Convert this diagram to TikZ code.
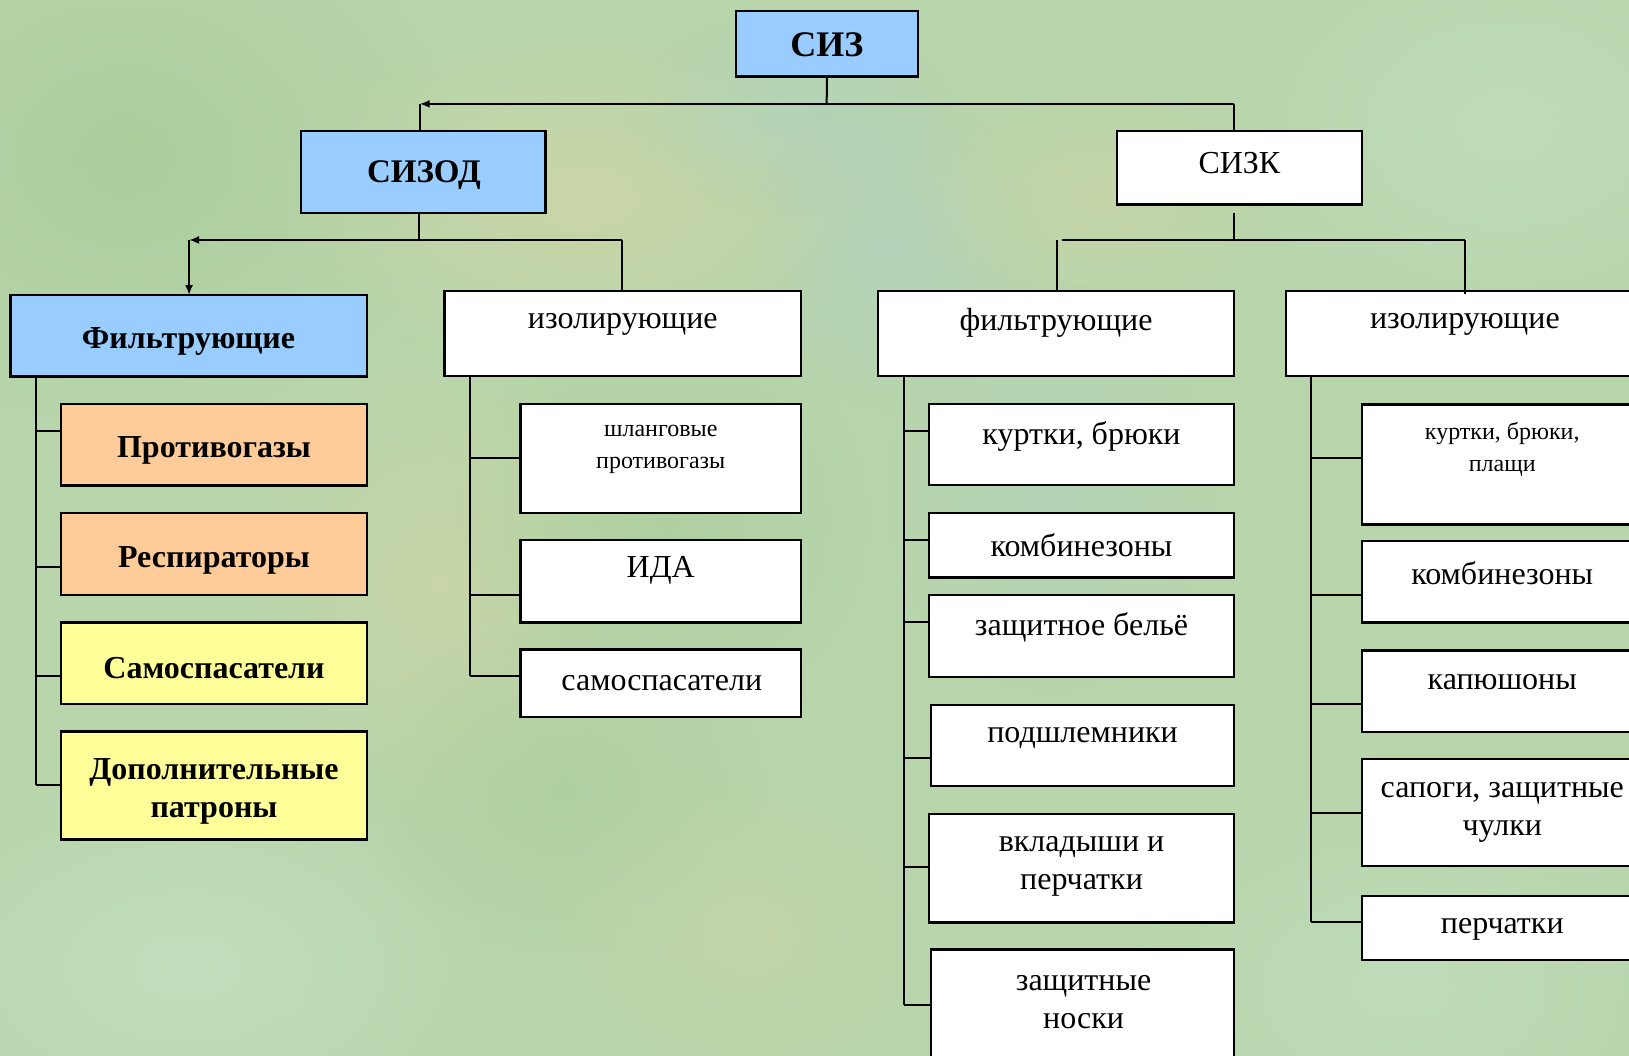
\documentclass[tikz,border=0pt]{standalone}
\usepackage{fontspec}
\setmainfont{Liberation Serif}
\usetikzlibrary{fit,arrows.meta,fadings}
\definecolor{bg}{RGB}{184,213,172}
\definecolor{bgyel}{RGB}{210,214,164}
\definecolor{bgblue}{RGB}{172,210,200}
\definecolor{bggreen}{RGB}{165,203,150}
\definecolor{bgmint}{RGB}{195,225,192}
\definecolor{boxblue}{RGB}{153,204,255}
\definecolor{boxorange}{RGB}{255,204,153}
\definecolor{boxyellow}{RGB}{255,255,153}
\tikzfading[name=fuzzy, inner color=transparent!0, outer color=transparent!100]
\begin{document}
\begin{tikzpicture}[x=1.0389pt,y=-1.0389pt,
  box/.style={draw=black, line width=2.4pt, inner sep=0pt, outer sep=0pt, fill=white},
  bluebox/.style={box, fill=boxblue},
  orbox/.style={box, fill=boxorange},
  yebox/.style={box, fill=boxyellow},
  txt/.style={font=\fontsize{32}{38}\selectfont, align=center, inner sep=0pt},
  btxt/.style={font=\fontsize{32}{38}\selectfont\bfseries, align=center, inner sep=0pt},
  stxt/.style={font=\fontsize{24}{32}\selectfont, align=center, inner sep=0pt},
  conn/.style={line width=2pt, draw=black},
  tip/.style={-{Latex[length=10pt,width=8pt]}}
]
\useasboundingbox (0,0) rectangle (1568,1016);
\clip (0,0) rectangle (1568,1016);
% background
\fill[bg] (0,0) rectangle (1568,1016);
\fill[bggreen, path fading=fuzzy, opacity=0.7] (120,150) ellipse [x radius=320, y radius=260];
\fill[bgyel, path fading=fuzzy, opacity=0.7] (560,190) ellipse [x radius=300, y radius=170];
\fill[bgblue, path fading=fuzzy, opacity=0.45] (760,110) ellipse [x radius=160, y radius=100];
\fill[bgblue, path fading=fuzzy, opacity=0.5] (860,240) ellipse [x radius=140, y radius=160];
\fill[bgyel, path fading=fuzzy, opacity=0.5] (1060,190) ellipse [x radius=200, y radius=120];
\fill[bgmint, path fading=fuzzy, opacity=0.6] (1450,120) ellipse [x radius=300, y radius=220];
\fill[bgyel, path fading=fuzzy, opacity=0.6] (420,560) ellipse [x radius=200, y radius=240];
\fill[bggreen, path fading=fuzzy, opacity=0.5] (640,500) ellipse [x radius=200, y radius=200];
\fill[bgblue, path fading=fuzzy, opacity=0.4] (1010,470) ellipse [x radius=160, y radius=200];
\fill[bgmint, path fading=fuzzy, opacity=0.8] (180,930) ellipse [x radius=320, y radius=200];
\fill[bggreen, path fading=fuzzy, opacity=0.5] (540,760) ellipse [x radius=200, y radius=160];
\fill[bgyel, path fading=fuzzy, opacity=0.4] (720,900) ellipse [x radius=200, y radius=160];
\fill[bgmint, path fading=fuzzy, opacity=0.6] (1350,950) ellipse [x radius=300, y radius=200];

% boxes
\node[bluebox, fit={(708.5,10.5) (883.5,73.8)}] (siz) {};
\node[btxt, font=\fontsize{36}{42}\selectfont\bfseries] (siz-t) at (796,43) {СИЗ};
\node[bluebox, fit={(290,126) (525,205)}] (sizod) {};
\node[btxt, font=\fontsize{33}{40}\selectfont\bfseries] (sizod-t) at (408,169) {СИЗОД};
\node[box, fit={(1075,126) (1311,197)}] (sizk) {};
\node[txt] (sizk-t) at (1193,157) {СИЗК};

\node[bluebox, fit={(10,284) (353,362.5)}] (filt) {};
\node[btxt] (filt-t) at (181.5,329) {Фильтрующие};
\node[box, fit={(428,280) (771,362)}] (izo1) {};
\node[txt] (izo1-t) at (599.5,312) {изолирующие};
\node[box, fit={(845,280) (1188,362)}] (filt2) {};
\node[txt] (filt2-t) at (1016.5,311) {фильтрующие};
\node[box, fit={(1238,280) (1582,362)}] (izo2) {};
\node[txt] (izo2-t) at (1410,312) {изолирующие};

\node[orbox, fit={(59,389) (353,467.5)}] (prot) {};
\node[btxt] (prot-t) at (206,434) {Противогазы};
\node[orbox, fit={(59,494) (353,572.5)}] (resp) {};
\node[btxt] (resp-t) at (206,539) {Респираторы};
\node[yebox, fit={(59,599) (353,677.5)}] (samo) {};
\node[btxt] (samo-t) at (206,643) {Самоспасатели};
\node[yebox, fit={(59,704) (353,808)}] (dop) {};
\node[btxt] (dop-t) at (206,762) {Дополнительные\\патроны};

\node[box, fit={(501,389) (771,494)}] (shl) {};
\node[stxt] (shl-t) at (636,433) {шланговые\\противогазы};
\node[box, fit={(501,520) (771,599)}] (ida) {};
\node[txt] (ida-t) at (636,549) {ИДА};
\node[box, fit={(501,625) (771,690)}] (samo2) {};
\node[txt] (samo2-t) at (637,658) {самоспасатели};

\node[box, fit={(894,389) (1188,467)}] (kur) {};
\node[txt] (kur-t) at (1041,420) {куртки, брюки};
\node[box, fit={(894,494) (1188,556)}] (komb) {};
\node[txt] (komb-t) at (1041,525) {комбинезоны};
\node[box, fit={(894,573) (1188,651.5)}] (bel) {};
\node[txt] (bel-t) at (1041,604) {защитное бельё};
\node[box, fit={(896,678.5) (1188,756.5)}] (podsh) {};
\node[txt] (podsh-t) at (1042,710) {подшлемники};
\node[box, fit={(894,783.5) (1188,888)}] (vkl) {};
\node[txt] (vkl-t) at (1041,834) {вкладыши и\\перчатки};
\node[box, fit={(896,914) (1188,1030)}] (nos) {};
\node[txt] (nos-t) at (1043,964.5) {защитные\\носки};

\node[box, fit={(1311,389.5) (1582,505)}] (kur2) {};
\node[stxt] (kur2-t) at (1446,433) {куртки, брюки,\\плащи};
\node[box, fit={(1311,520.5) (1582,599)}] (komb2) {};
\node[txt] (komb2-t) at (1446,552) {комбинезоны};
\node[box, fit={(1311,626) (1582,704.5)}] (kap) {};
\node[txt] (kap-t) at (1446,657) {капюшоны};
\node[box, fit={(1311,730.5) (1582,833.5)}] (sap) {};
\node[txt] (sap-t) at (1446,782) {сапоги, защитные\\чулки};
\node[box, fit={(1311,862.5) (1582,924)}] (per) {};
\node[txt] (per-t) at (1446,895) {перчатки};

% level 1 connectors
\coordinate (a0) at (795.7,100);
\coordinate (aL) at (404,100);
\coordinate (aR) at (1188,100);
\draw[conn] (siz.south) -- (a0);
\draw[conn, tip] (aR) -- (aL);
\draw[conn] (aL) -- (aL |- sizod.north);
\draw[conn] (aR) -- (aR |- sizk.north);

% level 2, SIZOD
\coordinate (b0) at (403,231);
\coordinate (bL) at (182,231);
\coordinate (bR) at (599,231);
\draw[conn] (sizod.south -| b0) -- (b0);
\draw[conn, tip] (bR) -- (bL);
\draw[conn, tip] (bL) -- (bL |- filt.north);
\draw[conn] (bR) -- (bR |- izo1.north);

% level 2, SIZK
\coordinate (c0s) at (1188,205);
\coordinate (c0) at (1188,231);
\coordinate (cL) at (1022,231);
\coordinate (cL2) at (1017,231);
\coordinate (cR) at (1410,231);
\draw[conn] (c0s) -- (c0);
\draw[conn] (cL) -- (cR);
\draw[conn] (cL2) -- (cL2 |- filt2.north);
\draw[conn] (cR) -- (1410,283);

% spines
\coordinate (s1) at (35,362.5);
\coordinate (s2) at (452,362);
\coordinate (s3) at (870,362);
\coordinate (s4) at (1262,362);
\draw[conn] (s1) -- (35,756);
\draw[conn] (s2) -- (452,651);
\draw[conn] (s3) -- (870,967);
\draw[conn] (s4) -- (1262,887);
\foreach \n/\y in {prot/415, resp/546, samo/651, dop/756}
  \draw[conn] (35,\y) -- (\n.west |- 35,\y);
\foreach \n/\y in {shl/441, ida/573, samo2/651}
  \draw[conn] (452,\y) -- (\n.west |- 452,\y);
\foreach \n/\y in {kur/415, komb/520, bel/599, podsh/730, vkl/835, nos/967}
  \draw[conn] (870,\y) -- (\n.west |- 870,\y);
\foreach \n/\y in {kur2/441, komb2/573, kap/678, sap/783, per/887}
  \draw[conn] (1262,\y) -- (\n.west |- 1262,\y);
\end{tikzpicture}
\end{document}
